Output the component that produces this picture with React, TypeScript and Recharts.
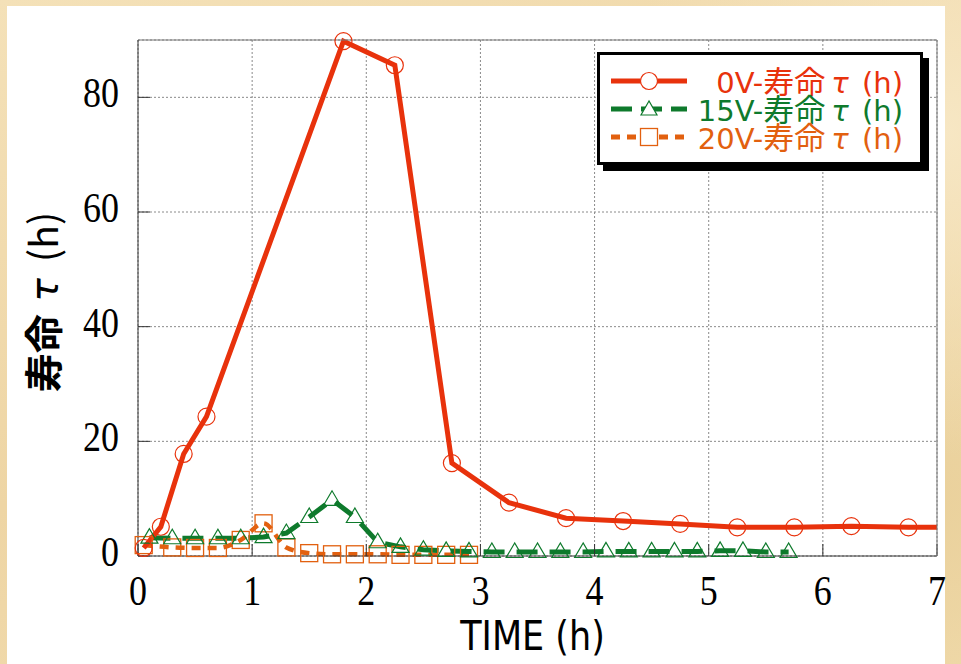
import React from 'react';
import { LineChart, Line, XAxis, YAxis, CartesianGrid, Legend, Label } from 'recharts';

// 0V
const time0V = [0.05, 0.2, 0.4, 0.6, 1.8, 2.25, 2.75, 3.25, 3.75, 4.25, 4.75, 5.25, 5.75, 6.25, 6.75, 7];
const tau0V = [1.4, 5.1, 17.8, 24.3, 89.8, 85.6, 16.2, 9.3, 6.6, 6.1, 5.6, 5.0, 5.0, 5.2, 5.0, 5.0];

// 15V
const time15V = [0.1, 0.3, 0.5, 0.7, 0.9, 1.1, 1.3, 1.5, 1.7, 1.9, 2.1, 2.3, 2.5, 2.7, 2.9, 3.1, 3.3, 3.5, 3.7, 3.9, 4.1, 4.3, 4.5, 4.7, 4.9, 5.1, 5.3, 5.5, 5.7];
const tau15V = [3.2, 3.1, 3.1, 3.1, 3.1, 3.3, 4.0, 6.8, 9.8, 6.8, 2.4, 1.6, 1.1, 0.9, 0.8, 0.7, 0.7, 0.7, 0.7, 0.7, 0.8, 0.8, 0.8, 0.8, 0.8, 0.9, 0.9, 0.7, 0.7];

// 20V
const time20V = [0.05, 0.3, 0.5, 0.7, 0.9, 1.1, 1.3, 1.5, 1.7, 1.9, 2.1, 2.3, 2.5, 2.7, 2.9];
const tau20V = [1.9, 1.5, 1.4, 1.4, 2.8, 5.7, 1.5, 0.5, 0.3, 0.3, 0.3, 0.2, 0.2, 0.2, 0.2];

const xTicks = [0, 1, 2, 3, 4, 5, 6, 7];
const yTicks = [0, 20, 40, 60, 80];

const seriesNames = ['0V-寿命τ (h)', '15V-寿命τ (h)', '20V-寿命τ (h)'];

const RED = '#E8320C';
const GREEN = '#0E7A2C';
const ORANGE = '#E2600F';

const toRows = (xs: number[], ys: number[]) => xs.map((t, i) => ({ time: t, tau: ys[i] }));
const data0V = toRows(time0V, tau0V);
const data15V = toRows(time15V, tau15V);
const data20V = toRows(time20V, tau20V);

// the 0V line runs on to the right edge, without a marker there
const circleDot = (p: any) =>
  p.payload.time >= 7 ? (
    <g key={p.index} />
  ) : (
    <circle key={p.index} cx={p.cx} cy={p.cy} r={8.5} fill="none" stroke={RED} strokeWidth={1.2} />
  );

const triangleDot = (p: any) => (
  <polygon
    key={p.index}
    points={`${p.cx},${p.cy - 9} ${p.cx - 8.5},${p.cy + 5.5} ${p.cx + 8.5},${p.cy + 5.5}`}
    fill="none"
    stroke={GREEN}
    strokeWidth={1.2}
  />
);

const squareDot = (p: any) => (
  <rect key={p.index} x={p.cx - 8.5} y={p.cy - 8.5} width={17} height={17} fill="none" stroke={ORANGE} strokeWidth={1.3} />
);

const renderXTick = (p: any) => (
  <g transform={`translate(${p.x},${p.y}) scale(1,1.2)`}>
    <text textAnchor="middle" fontSize={36} fontFamily="'Liberation Serif', serif" fill="#000">
      {p.payload.value}
    </text>
  </g>
);

const renderYTick = (p: any) => (
  <g transform={`translate(${p.x},${p.y + 10}) scale(1,1.2)`}>
    <text textAnchor="end" fontSize={36} fontFamily="'Liberation Serif', serif" fill="#000">
      {p.payload.value}
    </text>
  </g>
);

const XTitle = (props: any) => {
  const { x, y, width, height } = props.viewBox;
  return (
    <text
      transform={`translate(${x + width / 2 - 5},${y + height - 14}) scale(1,1.18)`}
      textAnchor="middle"
      fontSize={35}
      fontFamily="'DejaVu Sans', sans-serif"
      fill="#000"
    >
      TIME (h)
    </text>
  );
};

const YTitle = (props: any) => {
  const { x, y, height } = props.viewBox;
  return (
    <text
      transform={`translate(${x + 58},${y + height / 2 + 4}) rotate(-90)`}
      textAnchor="middle"
      fontSize={39}
      fontFamily="'Noto Sans CJK JP', sans-serif"
      fill="#000"
    >
      <tspan fontWeight="bold">寿命</tspan>
      <tspan fontFamily="'DejaVu Sans'" fontStyle="italic"> τ </tspan>
      <tspan dx={4}>(h)</tspan>
    </text>
  );
};

const legendItems = [
  { name: seriesNames[0], color: RED, dash: undefined, marker: 'circle' },
  { name: seriesNames[1], color: GREEN, dash: '21 9', marker: 'triangle' },
  { name: seriesNames[2], color: ORANGE, dash: '9 7', marker: 'square' },
];

const LegendMarker = ({ kind, color }: { kind: string; color: string }) => {
  const cx = 38;
  const cy = 14;
  if (kind === 'circle') return <circle cx={cx} cy={cy} r={8.5} fill="#fff" stroke={color} strokeWidth={1.2} />;
  if (kind === 'triangle')
    return (
      <polygon
        points={`${cx},${cy - 8} ${cx - 8},${cy + 6} ${cx + 8},${cy + 6}`}
        fill="#fff"
        stroke={color}
        strokeWidth={1.2}
      />
    );
  return <rect x={cx - 8.5} y={cy - 8.5} width={17} height={17} fill="#fff" stroke={color} strokeWidth={1.3} />;
};

const renderLegend = () => (
  <div
    style={{
      width: 320,
      height: 95,
      paddingTop: 12,
      border: '3px solid #000',
      boxShadow: '6px 6px 0 #000',
      background: '#fff',
    }}
  >
    {legendItems.map((item) => {
      const [before, after] = item.name.split('τ');
      const [volt, cjk] = before.split('-');
      return (
        <div key={item.name} style={{ display: 'flex', alignItems: 'center', height: 28 }}>
          <svg width={76} height={28} style={{ marginLeft: 11, flex: 'none' }}>
            <line x1={0} y1={14} x2={76} y2={14} stroke={item.color} strokeWidth={5} strokeDasharray={item.dash} />
            <LegendMarker kind={item.marker} color={item.color} />
          </svg>
          <div
            style={{
              flex: 1,
              textAlign: 'right',
              paddingRight: 17,
              whiteSpace: 'nowrap',
              fontFamily: "'DejaVu Sans', 'Noto Sans CJK JP', sans-serif",
              fontSize: 29,
              lineHeight: '28px',
              color: item.color,
            }}
          >
            {volt}-
            <span style={{ fontFamily: "'Noto Sans CJK JP', sans-serif", fontSize: 31 }}>{cjk}</span>
            <span style={{ fontStyle: 'italic', marginLeft: 6, marginRight: 4 }}>τ</span>
            {after}
          </div>
        </div>
      );
    })}
  </div>
);

export default function App() {
  return (
    <div
      style={{
        position: 'absolute',
        left: 0,
        top: 0,
        width: 961,
        height: 664,
        overflow: 'hidden',
        background:
          'radial-gradient(circle at 98% 20%, #f7e7c4 0%, transparent 30%), radial-gradient(circle at 97% 75%, #ead19c 0%, transparent 35%), linear-gradient(160deg, #f4e1b8, #eed5a4 50%, #f3dfb3)',
      }}
    >
      <div style={{ position: 'absolute', left: 7, top: 6, width: 938, height: 658, background: '#fff' }} />
      <div style={{ position: 'absolute', left: 0, top: 0 }}>
        <LineChart width={961} height={664} margin={{ top: 39, right: 23, bottom: 0, left: 0 }}>
          <CartesianGrid stroke="#8a8a8a" strokeDasharray="2 2" />
          <XAxis
            type="number"
            dataKey="time"
            domain={[0, 7]}
            ticks={xTicks}
            interval={0}
            height={108}
            tickSize={-12}
            tickMargin={61}
            axisLine={{ stroke: '#333' }}
            tickLine={{ stroke: '#333' }}
            tick={renderXTick}
          >
            <Label content={XTitle} />
          </XAxis>
          <XAxis
            xAxisId="top"
            orientation="top"
            type="number"
            domain={[0, 7]}
            ticks={xTicks}
            interval={0}
            height={1}
            tickSize={-12}
            axisLine={{ stroke: '#777' }}
            tickLine={{ stroke: '#555' }}
            tick={false}
          />
          <YAxis
            type="number"
            domain={[0, 90]}
            ticks={yTicks}
            interval={0}
            width={138}
            tickSize={-12}
            tickMargin={31}
            axisLine={{ stroke: '#333' }}
            tickLine={{ stroke: '#333' }}
            tick={renderYTick}
          >
            <Label content={YTitle} />
          </YAxis>
          <YAxis
            yAxisId="right"
            orientation="right"
            type="number"
            domain={[0, 90]}
            ticks={yTicks}
            interval={0}
            width={1}
            tickSize={-12}
            axisLine={{ stroke: '#777' }}
            tickLine={{ stroke: '#555' }}
            tick={false}
          />
          <Legend
            layout="vertical"
            align="center"
            verticalAlign="middle"
            content={renderLegend}
            wrapperStyle={{ left: 597, top: 52, width: 332 }}
          />
          <Line
            data={data20V}
            dataKey="tau"
            name={seriesNames[2]}
            type="monotone"
            stroke={ORANGE}
            strokeWidth={4.5}
            strokeDasharray="9 7"
            dot={squareDot}
            activeDot={false}
            isAnimationActive={false}
          />
          <Line
            data={data15V}
            dataKey="tau"
            name={seriesNames[1]}
            type="linear"
            stroke={GREEN}
            strokeWidth={5}
            strokeDasharray="21 12"
            dot={triangleDot}
            activeDot={false}
            isAnimationActive={false}
          />
          <Line
            data={data0V}
            dataKey="tau"
            name={seriesNames[0]}
            type="linear"
            stroke={RED}
            strokeWidth={5}
            dot={circleDot}
            activeDot={false}
            isAnimationActive={false}
          />
        </LineChart>
      </div>
    </div>
  );
}
